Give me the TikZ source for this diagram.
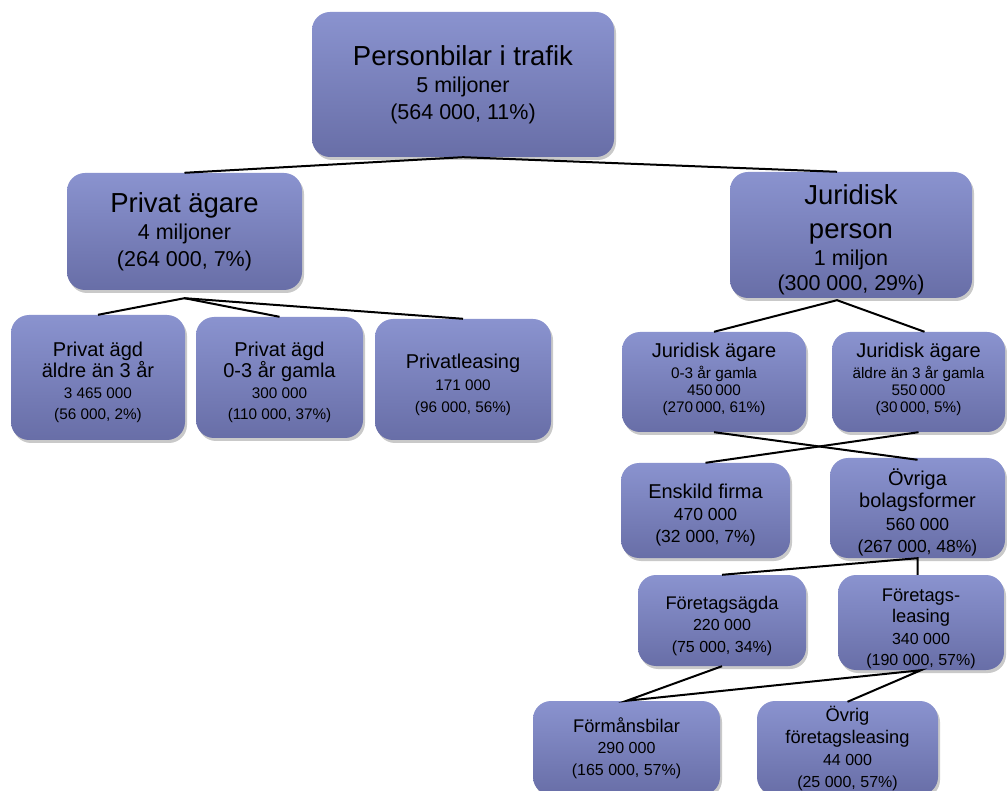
\documentclass[tikz,border=0pt]{standalone}
\usepackage{fontspec}
\setmainfont{Liberation Sans}
\usetikzlibrary{shadows}

\definecolor{boxtop}{RGB}{138,147,207}
\definecolor{boxbot}{RGB}{104,110,167}

% font sizes of the lines in the boxes
\newcommand{\szhead}{\fontsize{27.5}{27.5}\selectfont}
\newcommand{\szsub}{\fontsize{21.5}{21.5}\selectfont}
\newcommand{\szmid}{\fontsize{20}{20}\selectfont}
\newcommand{\szsm}{\fontsize{15.3}{15.3}\selectfont}
\newcommand{\szlow}{\fontsize{17.5}{17.5}\selectfont}
\newcommand{\szfor}{\fontsize{18.3}{18.3}\selectfont}
\newcommand{\sznum}{\fontsize{16}{16}\selectfont}
% invisible strut, pushes the text of a box down
\newcommand{\up}[1]{\rule{0pt}{#1}}

\tikzset{
  box/.style={rounded corners=18pt, top color=boxtop, bottom color=boxbot,
    drop shadow={shadow xshift=2pt, shadow yshift=-3pt, opacity=0.3, fill=black!70},
    align=center, inner sep=0pt, text=black},
  link/.style={black, line width=2pt},
}

\begin{document}
\begin{tikzpicture}[x=1pt, y=-1pt]
	\useasboundingbox (0,0) rectangle (1007,791);

	% top level
	\node[box, minimum width=302pt, minimum height=145pt, font=\fontsize{16}{27}\selectfont]
		(total) at (463,84.5) {{\szhead Personbilar i trafik}\\ {\szsub 5 miljoner}\\ {\szsub (564 000, 11\%)}};

	% second level
	\node[box, minimum width=235pt, minimum height=117pt, font=\fontsize{16}{27}\selectfont]
		(privat) at (184.5,231.5) {{\szhead Privat ägare}\\ {\szsub 4 miljoner}\\ {\szsub (264 000, 7\%)}};
	\node[box, minimum width=242pt, minimum height=126pt, font=\fontsize{16}{30}\selectfont]
		(jurid) at (851,235) {{\szhead\up{30pt}Juridisk}\\[4pt] {\szhead person}\\[-3pt] {\szsub 1 miljon}\\[-5pt] {\szsub (300 000, 29\%)}};

	% private owners
	\node[box, minimum width=174pt, minimum height=125pt, font=\fontsize{14}{21}\selectfont]
		(pold) at (98,377.5) {{\szmid\up{24.6pt}Privat ägd}\\ {\szmid äldre än 3 år}\\ {\szsm 3 465 000}\\ {\szsm (56 000, 2\%)}};
	\node[box, minimum width=167pt, minimum height=121pt, font=\fontsize{14}{21}\selectfont]
		(pnew) at (279.5,377.5) {{\szmid\up{24.6pt}Privat ägd}\\ {\szmid 0-3 år gamla}\\ {\szsm 300 000}\\ {\szsm (110 000, 37\%)}};
	\node[box, minimum width=176pt, minimum height=121pt, font=\fontsize{14}{22}\selectfont]
		(pleas) at (463,379.5) {{\szmid\up{24.6pt}Privatleasing}\\ {\szsm 171 000}\\ {\szsm (96 000, 56\%)}};

	% legal owners
	\node[box, minimum width=184pt, minimum height=100pt, font=\fontsize{14}{21}\selectfont]
		(jnew) at (714,382) {{\szmid Juridisk ägare}\\ {\szsm 0-3 år gamla}\\[-4pt] {\szsm 450\,000}\\[-4pt] {\szsm (270\,000, 61\%)\rule[-9pt]{0pt}{0pt}}};
	\node[box, minimum width=173pt, minimum height=100pt, font=\fontsize{14}{21}\selectfont]
		(jold) at (918.5,382) {{\szmid Juridisk ägare}\\ {\szsm äldre än 3 år gamla}\\[-4pt] {\szsm 550\,000}\\[-4pt] {\szsm (30\,000, 5\%)\rule[-9pt]{0pt}{0pt}}};

	\node[box, minimum width=169pt, minimum height=95pt, font=\fontsize{15}{22}\selectfont]
		(firma) at (705.5,510.5) {{\szmid\up{24.6pt}Enskild firma}\\ {\szlow 470 000}\\ {\szlow (32 000, 7\%)}};
	\node[box, minimum width=175pt, minimum height=100pt, font=\fontsize{15}{22.5}\selectfont]
		(bolag) at (917.5,508) {{\szmid\up{26pt}Övriga}\\ {\szmid bolagsformer}\\ {\szlow 560 000}\\ {\szlow (267 000, 48\%)}};

	\node[box, minimum width=168pt, minimum height=91pt, font=\fontsize{15}{21.5}\selectfont]
		(fagda) at (722,620.5) {{\szfor\up{23.4pt}Företagsägda}\\ {\sznum 220 000}\\ {\sznum (75 000, 34\%)}};
	\node[box, minimum width=166pt, minimum height=95pt, font=\fontsize{15}{21.5}\selectfont]
		(fleas) at (921,622.5) {{\szfor\up{25.4pt}Företags-}\\ {\szfor leasing}\\ {\sznum 340 000}\\ {\sznum (190 000, 57\%)}};

	\node[box, minimum width=187pt, minimum height=94pt, font=\fontsize{15}{21.5}\selectfont]
		(forman) at (626.5,748) {{\szfor Förmånsbilar}\\ {\sznum 290 000}\\ {\sznum (165 000, 57\%)}};
	\node[box, minimum width=181pt, minimum height=94pt, font=\fontsize{15}{22}\selectfont]
		(ovrig) at (847.5,748) {{\szfor Övrig}\\ {\szfor företagsleasing}\\ {\sznum 44 000}\\ {\sznum (25 000, 57\%)}};

	% connectors
	\draw[link] (privat.north) -- (total.south) -- ([xshift=-14pt]jurid.north);
	\draw[link] (pold.north) -- ([yshift=-8pt]privat.south) -- (pnew.north);
	\draw[link] ([yshift=-8pt]privat.south) -- (pleas.north);
	\draw[link] (jnew.north) -- ([xshift=-14pt,yshift=-2pt]jurid.south) -- ([xshift=6pt]jold.north);
	\draw[link] (jnew.south) -- ([yshift=-2pt]bolag.north);
	\draw[link] (jold.south) -- (firma.north);
	\draw[link] (fagda.north) -- (bolag.south) -- (bolag.south |- fleas.north);
	\draw[link] (fagda.south) -- (forman.north) -- (fleas.south) -- ([yshift=-1pt]ovrig.north);
\end{tikzpicture}
\end{document}
